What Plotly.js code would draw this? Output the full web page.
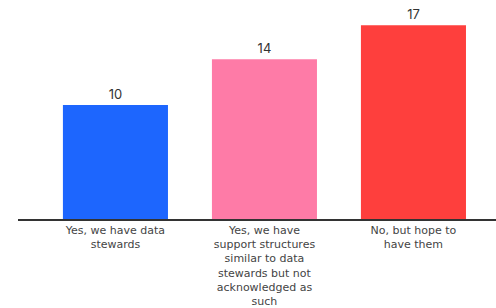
<!DOCTYPE html>
<html><head><meta charset="utf-8">
<script src="https://cdn.plot.ly/plotly-3.0.1.min.js"></script>
<style>html,body{margin:0;padding:0;background:#fff}#c{width:496px;height:308px}</style>
</head><body><div id="c"></div>
<script>
const categories = [
  "Yes, we have data<br>stewards",
  "Yes, we have<br>support structures<br>similar to data<br>stewards but not<br>acknowledged as<br>such",
  "No, but hope to<br>have them"
];
const values = [10, 14, 17];
const colors = ["#1d66fe", "#fe7ba7", "#fe3f3d"];

Plotly.newPlot("c", [{
  type: "bar",
  x: categories,
  y: values,
  marker: {color: colors},
  text: values.map(String),
  textposition: "outside",
  cliponaxis: false,
  textfont: {family: "Inter, 'Noto Sans', sans-serif", size: 13, color: "#333"},
  hoverinfo: "none"
}], {
  width: 496, height: 308,
  margin: {l: 18, r: 0, t: 10, b: 89},
  paper_bgcolor: "#fff", plot_bgcolor: "#fff",
  bargap: 0.295,
  showlegend: false,
  xaxis: {
    type: "category",
    range: [-0.654, 2.554],
    showline: true, linecolor: "#333", linewidth: 1.5,
    ticks: "", showgrid: false, zeroline: false,
    tickfont: {family: "'DejaVu Sans', sans-serif", size: 11, color: "#444"},
    tickangle: 0
  },
  yaxis: {
    range: [0, 18.33],
    visible: false, showgrid: false, zeroline: false
  }
}, {staticPlot: true, displayModeBar: false});
</script></body></html>
